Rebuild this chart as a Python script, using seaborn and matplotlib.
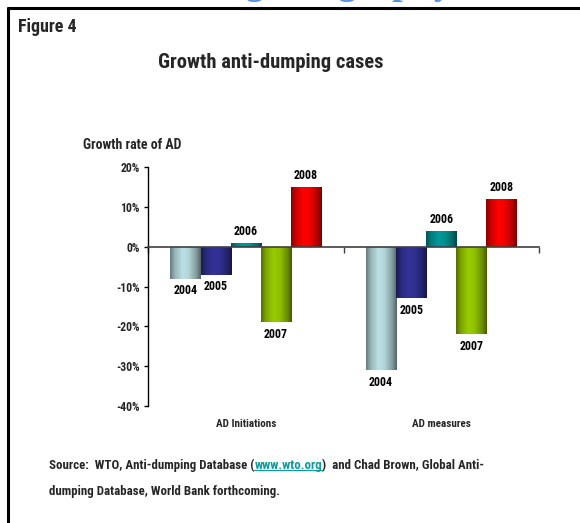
import numpy as np
import pandas as pd
import matplotlib
matplotlib.use("Agg")
import matplotlib.pyplot as plt
import seaborn as sns
from matplotlib.lines import Line2D
from matplotlib.colors import to_rgb
from matplotlib.ticker import PercentFormatter

# ---- data -------------------------------------------------------------
categories = ["AD Initiations", "AD measures"]
years = ["2004", "2005", "2006", "2007", "2008"]
initiations = [-8, -7, 1, -19, 15]
measures = [-31, -13, 4, -22, 12]
year_colors = ["#BBE0E3", "#333399", "#009999", "#99CC00", "#FF0000"]
y_ticks = [20, 10, 0, -10, -20, -30, -40]

df = pd.DataFrame({
    "category": np.repeat(categories, len(years)),
    "year": years * len(categories),
    "growth": initiations + measures,
})

# ---- style ------------------------------------------------------------
sns.set_theme(style="white")
plt.rcParams["font.family"] = ["Roboto Condensed", "Archivo Narrow", "Liberation Sans", "DejaVu Sans"]
plt.rcParams["font.weight"] = "bold"
plt.rcParams["axes.unicode_minus"] = False

W, H = 580, 523
fig = plt.figure(figsize=(W / 100, H / 100), dpi=100)
fig.patch.set_facecolor("white")


def fx(px):
    return px / W


def fy(py):
    return 1 - py / H


ax = fig.add_axes([fx(148), fy(406), fx(539) - fx(148), fy(167) - fy(406)])

sns.barplot(data=df, x="category", y="growth", hue="year",
            order=categories, hue_order=years, palette=year_colors,
            width=0.77, saturation=1, legend=False, ax=ax,
            linewidth=0, edgecolor="none", errorbar=None)

# cylinder-like shading across each bar
shade_t = [0.0, 0.15, 0.4, 0.6, 0.85, 1.0]
shade_f = [0.55, 0.8, 1.0, 0.95, 0.7, 0.45]
tt = np.linspace(0, 1, 64)
fac = np.interp(tt, shade_t, shade_f)
for container, col in zip(ax.containers, year_colors):
    base = np.array(to_rgb(col))
    img = np.clip(fac[:, None] * base[None, :], 0, 1)[None, :, :]
    for bar in container:
        x0, y0 = bar.get_xy()
        w, h = bar.get_width(), bar.get_height()
        im = ax.imshow(img, extent=[x0, x0 + w, min(y0, y0 + h), max(y0, y0 + h)],
                       aspect="auto", interpolation="bilinear",
                       zorder=bar.get_zorder() + 0.01)
        im.set_clip_path(bar)

ax.set_ylim(-40, 20)
ax.set_xlim(-0.5, len(categories) - 0.5)

# year labels on every bar
for container, yr in zip(ax.containers, years):
    for bar, v in zip(container, container.datavalues):
        up = v >= 0
        ax.annotate(yr, (bar.get_x() + bar.get_width() / 2, v),
                    xytext=(0, 3.5 if up else -4), textcoords="offset points",
                    ha="center", va="bottom" if up else "top",
                    fontsize=8.6, fontweight="bold", color="black")

# axes styling
for s in ["top", "right"]:
    ax.spines[s].set_visible(False)
ax.spines["left"].set_color("black")
ax.spines["left"].set_linewidth(1.0)
ax.spines["bottom"].set_position(("data", 0))
ax.spines["bottom"].set_color("#404040")
ax.spines["bottom"].set_linewidth(1.2)

ax.set_yticks(y_ticks)
ax.yaxis.set_major_formatter(PercentFormatter(decimals=0))
ax.tick_params(axis="y", left=True, direction="out", length=3, width=1,
               color="black", labelsize=8.5, pad=3)
ax.set_xticks(range(len(categories)))
ax.set_xticklabels(categories)
ax.tick_params(axis="x", which="major", bottom=True, length=0, pad=124, labelsize=8)
ax.set_xticks([i - 0.5 for i in range(len(categories) + 1)], minor=True)
ax.tick_params(axis="x", which="minor", bottom=True, direction="out",
               length=4, width=1, color="#404040")
ax.set_xlabel("")
ax.set_ylabel("")
ax.patch.set_alpha(0)

# ---- frame and texts --------------------------------------------------
fig.add_artist(Line2D([fx(8), 1], [fy(8), fy(8)], color="black", lw=2.2))
fig.add_artist(Line2D([fx(8), fx(8)], [0, fy(8)], color="black", lw=2.2))

fig.text(fx(137), fy(-6), "Shifting Geography", fontsize=27, fontweight="bold",
         family="Liberation Serif", color="#5B8FD9", va="baseline", ha="left")

fig.text(fx(18), fy(27), "Figure 4", fontsize=13, fontweight="bold", va="center", ha="left")
fig.text(fx(271), fy(62), "Growth anti-dumping cases", fontsize=14.8, fontweight="bold",
         va="center", ha="center")
fig.text(fx(83), fy(145), "Growth rate of AD", fontsize=10, fontweight="bold",
         va="center", ha="left")

src_size = 9.25
src1 = fig.text(fx(49), fy(465), "Source:  WTO, Anti-dumping Database (",
                fontsize=src_size, fontweight="bold", va="center", ha="left")
link = ax.annotate("www.wto.org", xy=(1, 0), xycoords=src1, va="bottom", ha="left",
                   fontsize=src_size, fontweight="bold", color="#12999A", annotation_clip=False)
ax.annotate(")  and Chad Brown, Global Anti-", xy=(1, 0), xycoords=link,
            va="bottom", ha="left", fontsize=src_size, fontweight="bold", annotation_clip=False)
fig.text(fx(49), fy(492), "dumping Database, World Bank forthcoming.",
         fontsize=src_size, fontweight="bold", va="center", ha="left")

fig.canvas.draw()
bb = link.get_window_extent().transformed(fig.transFigure.inverted())
fig.add_artist(Line2D([bb.x0, bb.x1], [bb.y0 + 1.5 / H, bb.y0 + 1.5 / H],
                      color="#12999A", lw=0.9))

fig.savefig("out.png", dpi=100)
